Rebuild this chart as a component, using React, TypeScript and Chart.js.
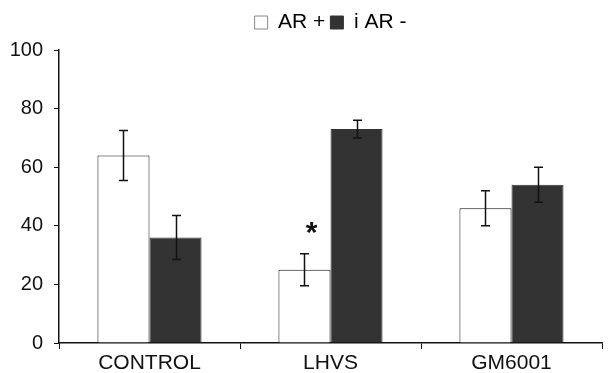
import React, { useEffect, useRef } from "react";
import { Chart, registerables } from "chart.js";

Chart.register(...registerables);

const categories = ["CONTROL", "LHVS", "GM6001"];
const seriesLabels = ["AR +", "i AR -"];
const arPlus = [64, 25, 46];
const arPlusErr = [8.5, 5.5, 6];
const arMinus = [36, 73, 54];
const arMinusErr = [7.5, 3, 6];
const yTicks = [0, 20, 40, 60, 80, 100];
const significance = ["", "*", ""];

const FONT = "'Liberation Sans', Arial, sans-serif";

const errorBarPlugin = {
  id: "errorBars",
  afterDatasetsDraw(chart: any) {
    const ctx = chart.ctx;
    const yScale = chart.scales.y;
    const errs = [arPlusErr, arMinusErr];
    ctx.save();
    ctx.strokeStyle = "#111";
    ctx.lineWidth = 1.5;
    chart.data.datasets.forEach((ds: any, di: number) => {
      const meta = chart.getDatasetMeta(di);
      meta.data.forEach((bar: any, i: number) => {
        const v = ds.data[i];
        const e = errs[di][i];
        const x = Math.round(bar.x) + 0.5;
        const yT = yScale.getPixelForValue(v + e);
        const yB = yScale.getPixelForValue(v - e);
        const cap = 4.5;
        ctx.beginPath();
        ctx.moveTo(x, yT);
        ctx.lineTo(x, yB);
        ctx.moveTo(x - cap, yT);
        ctx.lineTo(x + cap, yT);
        ctx.moveTo(x - cap, yB);
        ctx.lineTo(x + cap, yB);
        ctx.stroke();
        if (di === 0 && significance[i]) {
          ctx.fillStyle = "#111";
          ctx.font = `bold 30px ${FONT}`;
          ctx.textAlign = "center";
          ctx.textBaseline = "alphabetic";
          ctx.fillText(significance[i], x + 7, yT - 12);
        }
      });
    });
    ctx.restore();
  },
};

export default function App() {
  const ref = useRef<HTMLCanvasElement>(null);
  useEffect(() => {
    if (!ref.current) return;
    const chart = new Chart(ref.current, {
      type: "bar",
      data: {
        labels: categories,
        datasets: [
          {
            label: seriesLabels[0],
            data: arPlus,
            backgroundColor: "#ffffff",
            borderColor: "#111111",
            borderWidth: 1,
            categoryPercentage: 0.575,
            barPercentage: 1,
          },
          {
            label: seriesLabels[1],
            data: arMinus,
            backgroundColor: "#333333",
            borderColor: "#333333",
            borderWidth: 1,
            categoryPercentage: 0.575,
            barPercentage: 1,
          },
        ],
      },
      options: {
        animation: false,
        responsive: false,
        maintainAspectRatio: false,
        layout: { padding: { left: 10, right: 14, top: 7, bottom: 0 } },
        plugins: {
          tooltip: { enabled: false },
          title: {
            display: true,
            text: "",
            weight: 100,
            padding: { top: 6, bottom: 0 },
            font: { size: 1, lineHeight: 1 },
          },
          legend: {
            display: true,
            position: "top",
            fullSize: false,
            labels: {
              boxWidth: 13,
              boxHeight: 13,
              padding: 5,
              color: "#111",
              font: { family: FONT, size: 21 },
              useBorderRadius: false,
              generateLabels: (chart: any) =>
                chart.data.datasets.map((ds: any, i: number) => ({
                  text: ds.label,
                  fillStyle: ds.backgroundColor,
                  strokeStyle: i === 0 ? "#888" : ds.backgroundColor,
                  lineWidth: 1,
                  datasetIndex: i,
                  hidden: false,
                })),
            },
          },
        },
        scales: {
          x: {
            afterFit: (axis: any) => {
              axis.height = 30;
            },
            grid: {
              display: true,
              drawOnChartArea: false,
              drawTicks: true,
              tickLength: 6,
              color: "#111",
              offset: true,
            },
            border: { display: true, color: "#111", width: 1.5 },
            ticks: {
              color: "#111",
              padding: 3,
              font: { family: FONT, size: 21, lineHeight: 1.05 },
            },
          },
          y: {
            min: 0,
            max: 100,
            afterFit: (axis: any) => {
              axis.width = 49;
            },
            afterBuildTicks: (axis: any) => {
              axis.ticks = yTicks.map((v) => ({ value: v }));
            },
            grid: {
              display: true,
              drawOnChartArea: false,
              drawTicks: true,
              tickLength: 5,
              color: "#111",
            },
            border: { display: true, color: "#111", width: 1.5 },
            ticks: {
              color: "#111",
              padding: 11,
              font: { family: FONT, size: 20 },
            },
          },
        },
      },
      plugins: [errorBarPlugin],
    });
    return () => chart.destroy();
  }, []);
  return (
    <div style={{ position: "fixed", left: 0, top: 0, width: 616, height: 373, background: "#fff" }}>
      <canvas ref={ref} width={616} height={373} style={{ width: 616, height: 373 }} />
    </div>
  );
}
